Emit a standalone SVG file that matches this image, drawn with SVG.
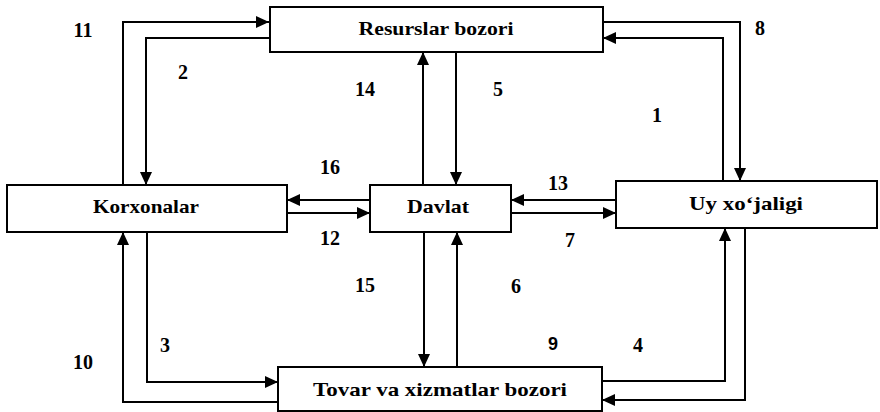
<svg xmlns="http://www.w3.org/2000/svg" width="880" height="412" viewBox="0 0 880 412">
<style>
.box{fill:#fff;stroke:#000;stroke-width:2}
.t{font-family:"Liberation Serif",serif;font-weight:bold;font-size:19px;fill:#000;text-anchor:middle}
.n{font-family:"Liberation Serif",serif;font-weight:bold;font-size:20px;fill:#000;text-anchor:middle}
.n9{font-family:"Liberation Sans",sans-serif;font-weight:bold;font-size:18px;fill:#000;text-anchor:middle}
.c{fill:none;stroke:#000;stroke-width:2;marker-end:url(#ah)}
</style>
<defs>
<marker id="ah" markerUnits="userSpaceOnUse" markerWidth="14" markerHeight="12" refX="13" refY="6" orient="auto">
<path d="M0,0 L13,6 L0,12 Z" fill="#000"/>
</marker>
</defs>
<g id="connectors">
<path class="c" d="M123,185 V22 H269"/>
<path class="c" d="M270,38 H146 V185"/>
<path class="c" d="M423,185 V52"/>
<path class="c" d="M456,52 V185"/>
<path class="c" d="M603,22 H740 V181"/>
<path class="c" d="M723,181 V38 H603"/>
<path class="c" d="M370,200 H287"/>
<path class="c" d="M287,213 H370"/>
<path class="c" d="M616,200 H511"/>
<path class="c" d="M511,213 H616"/>
<path class="c" d="M424,232 V367"/>
<path class="c" d="M457,367 V232"/>
<path class="c" d="M147,232 V382 H278"/>
<path class="c" d="M278,402 H123 V232"/>
<path class="c" d="M602,381 H725 V228"/>
<path class="c" d="M745,228 V400 H602"/>
</g>
<g id="resurslar"><rect class="box" x="270" y="7" width="333" height="45"/><text class="t" x="436" y="35" textLength="155" lengthAdjust="spacingAndGlyphs">Resurslar bozori</text></g>
<g id="korxonalar"><rect class="box" x="7" y="185" width="280" height="47"/><text class="t" x="146" y="213" textLength="106" lengthAdjust="spacingAndGlyphs">Korxonalar</text></g>
<g id="davlat"><rect class="box" x="370" y="185" width="141" height="47"/><text class="t" x="438" y="213" textLength="62" lengthAdjust="spacingAndGlyphs">Davlat</text></g>
<g id="uy"><rect class="box" x="616" y="181" width="261" height="47"/><text class="t" x="746" y="210" textLength="114" lengthAdjust="spacingAndGlyphs">Uy xo‘jaligi</text></g>
<g id="tovar"><rect class="box" x="278" y="367" width="324" height="44"/><text class="t" x="440" y="396" textLength="254" lengthAdjust="spacingAndGlyphs">Tovar va xizmatlar bozori</text></g>
<g id="labels">
<text class="n" x="83" y="37">11</text>
<text class="n" x="183" y="79">2</text>
<text class="n" x="365" y="96">14</text>
<text class="n" x="498" y="96">5</text>
<text class="n" x="657" y="122">1</text>
<text class="n" x="760" y="35">8</text>
<text class="n" x="330" y="174">16</text>
<text class="n" x="558" y="190">13</text>
<text class="n" x="330" y="245">12</text>
<text class="n" x="570" y="247">7</text>
<text class="n" x="365" y="292">15</text>
<text class="n" x="516" y="293">6</text>
<text class="n" x="165" y="352">3</text>
<text class="n" x="83" y="369">10</text>
<text class="n9" x="553" y="350">9</text>
<text class="n" x="638" y="352">4</text>
</g>
</svg>
